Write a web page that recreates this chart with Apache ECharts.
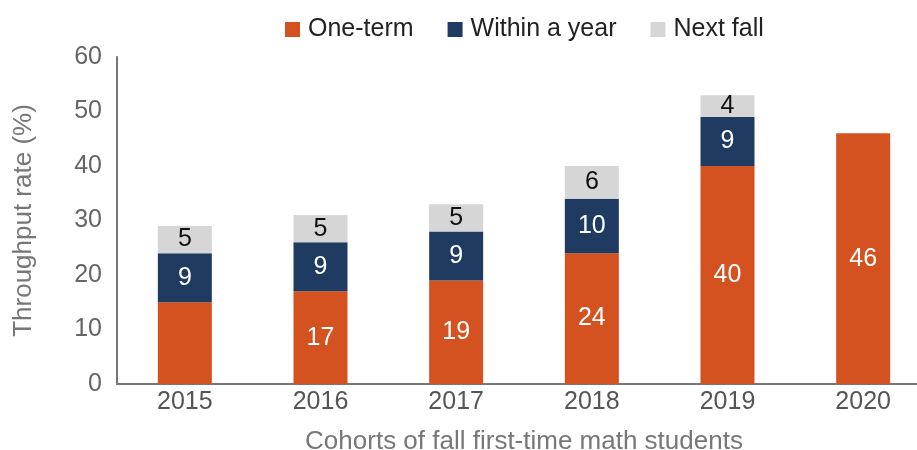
<!DOCTYPE html>
<html><head><meta charset="utf-8">
<script src="https://cdn.jsdelivr.net/npm/echarts@6/dist/echarts.min.js"></script>
<style>html,body{margin:0;padding:0;background:#fff}#c{width:917px;height:450px}</style>
</head><body><div id="c"></div>
<script>
const categories = ['2015','2016','2017','2018','2019','2020'];
const oneTerm = [15, 17, 19, 24, 40, 46];
const withinYear = [9, 9, 9, 10, 9, null];
const nextFall = [5, 5, 5, 6, 4, null];
const hiddenLabels = [0]; // index of One-term bar without printed label
const yTicks = {min: 0, max: 60, interval: 10};

const font = 'Liberation Sans';
const chart = echarts.init(document.getElementById('c'));
chart.setOption({
  animation: false,
  textStyle: {fontFamily: font},
  legend: {
    top: 12, left: 280, itemWidth: 15, itemHeight: 15, itemGap: 34,
    icon: 'rect',
    textStyle: {fontSize: 25, color: '#222', fontFamily: font, padding: [0,0,0,3]},
    data: ['One-term','Within a year','Next fall']
  },
  grid: {left: 117, top: 57, bottom: 66, width: 814, outerBoundsMode: 'none', containLabel: false},
  xAxis: {
    type: 'category', data: categories,
    axisLine: {lineStyle: {color: '#777', width: 2}},
    axisTick: {show: false},
    axisLabel: {fontSize: 25, color: '#555', margin: 6, fontFamily: font},
    name: 'Cohorts of fall first-time math students',
    nameLocation: 'middle', nameGap: 45,
    nameTextStyle: {fontSize: 26, color: '#777', fontFamily: font}
  },
  yAxis: {
    type: 'value', min: yTicks.min, max: yTicks.max, interval: yTicks.interval,
    splitLine: {show: false},
    axisLine: {show: true, lineStyle: {color: '#777', width: 2}},
    axisTick: {show: false},
    axisLabel: {fontSize: 25, color: '#666', margin: 15, fontFamily: font},
    name: 'Throughput rate (%)', nameLocation: 'middle', nameGap: 80,
    nameTextStyle: {fontSize: 26, color: '#777', fontFamily: font}
  },
  series: [
    {name: 'One-term', type: 'bar', stack: 's', barWidth: 54,
     itemStyle: {color: '#D4521F'},
     label: {show: true, position: 'inside', color: '#fff', fontSize: 25, fontFamily: font},
     data: oneTerm.map((v,i) => hiddenLabels.includes(i) ? {value: v, label: {show: false}} : v)},
    {name: 'Within a year', type: 'bar', stack: 's', barWidth: 54,
     itemStyle: {color: '#1F3B62'},
     label: {show: true, position: 'inside', color: '#fff', fontSize: 25, fontFamily: font},
     data: withinYear},
    {name: 'Next fall', type: 'bar', stack: 's', barWidth: 54,
     itemStyle: {color: '#D6D6D6'},
     label: {show: true, position: 'inside', color: '#111', fontSize: 25, fontFamily: font},
     data: nextFall}
  ]
});
</script></body></html>
